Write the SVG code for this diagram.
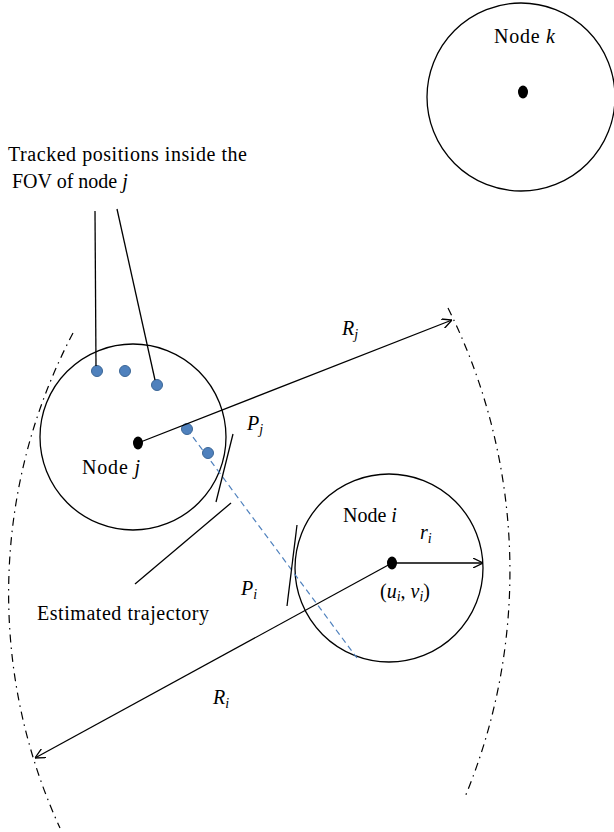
<svg xmlns="http://www.w3.org/2000/svg" width="614" height="832" viewBox="0 0 614 832">
<defs>
<style>
.c{fill:none;stroke:#000;stroke-width:1.3}
.l{fill:none;stroke:#000;stroke-width:1.3}
.arc{fill:none;stroke:#000;stroke-width:1.2;stroke-dasharray:8 5 1.5 5}
.bd{fill:#4f81bd;stroke:#3b6696;stroke-width:1}
.bl{fill:none;stroke:#4f81bd;stroke-width:1.2;stroke-dasharray:6 4}
.t{font-family:"Liberation Serif","Times New Roman",serif;font-size:20px;fill:#000}
.i{font-style:italic}
.s{font-size:14px;font-style:italic}
</style>
<marker id="ah" viewBox="0 0 10 10" refX="10" refY="5" markerWidth="10" markerHeight="10" markerUnits="userSpaceOnUse" orient="auto">
<path d="M0,0 L10,5 L0,10" fill="none" stroke="#000" stroke-width="1.3"/>
</marker>
</defs>
<rect width="614" height="832" fill="#fff"/>

<g id="range-arcs">
<path class="arc" d="M73,333 A560,560 0 0 0 60,828"/>
<path class="arc" d="M448,308 A590,590 0 0 1 465,797"/>
</g>

<g id="node-k">
<circle class="c" cx="521" cy="97" r="94"/>
<ellipse cx="523" cy="92" rx="5" ry="6.5" fill="#000"/>
<text class="t" x="494" y="43" textLength="61">Node <tspan class="i">k</tspan></text>
</g>

<g id="node-j">
<circle class="c" cx="133" cy="437" r="93"/>
<ellipse cx="138" cy="443" rx="5" ry="6.5" fill="#000"/>
<text class="t" x="82" y="474" textLength="58">Node <tspan class="i">j</tspan></text>
</g>

<g id="node-i">
<circle class="c" cx="389" cy="568" r="94"/>
<ellipse cx="392" cy="563" rx="5" ry="6.5" fill="#000"/>
<text class="t" x="343" y="522">Node <tspan class="i">i</tspan></text>
<text class="t" x="380" y="598">(<tspan class="i">u</tspan><tspan class="s" dy="3">i</tspan><tspan dy="-3">, </tspan><tspan class="i">v</tspan><tspan class="s" dy="3">i</tspan><tspan dy="-3">)</tspan></text>
</g>

<g id="tracked-positions">
<circle class="bd" cx="97" cy="371" r="5.5"/>
<circle class="bd" cx="125" cy="371" r="5.5"/>
<circle class="bd" cx="157" cy="385" r="5.5"/>
<circle class="bd" cx="187" cy="429" r="5.5"/>
<circle class="bd" cx="208" cy="453" r="5.5"/>
<text class="t" x="8" y="161" textLength="239">Tracked positions inside the</text>
<text class="t" x="12" y="188">FOV of node <tspan class="i">j</tspan></text>
</g>

<g id="estimated-trajectory">
<text class="t" x="37" y="620" textLength="172">Estimated trajectory</text>
</g>

<g id="connectors">
<line class="l" x1="95" y1="211" x2="96" y2="366"/>
<line class="l" x1="117" y1="209" x2="155" y2="380"/>
<line class="bl" x1="187" y1="429" x2="357" y2="658"/>
<line class="l" x1="233" y1="434" x2="216" y2="502"/>
<line class="l" x1="297" y1="525" x2="287" y2="606"/>
<line class="l" x1="231" y1="503" x2="135" y2="584"/>
<line class="l" x1="138" y1="443" x2="452" y2="320" marker-end="url(#ah)"/>
<line class="l" x1="392" y1="563" x2="483" y2="563" marker-end="url(#ah)"/>
<line class="l" x1="392" y1="563" x2="35" y2="758" marker-end="url(#ah)"/>
</g>

<g id="labels">
<text class="t i" x="342" y="335">R<tspan class="s" dy="4">j</tspan></text>
<text class="t i" x="247" y="430">P<tspan class="s" dy="4">j</tspan></text>
<text class="t i" x="241" y="595">P<tspan class="s" dy="4">i</tspan></text>
<text class="t i" x="420" y="539">r<tspan class="s" dy="4">i</tspan></text>
<text class="t i" x="213" y="704">R<tspan class="s" dy="4">i</tspan></text>
</g>
</svg>
